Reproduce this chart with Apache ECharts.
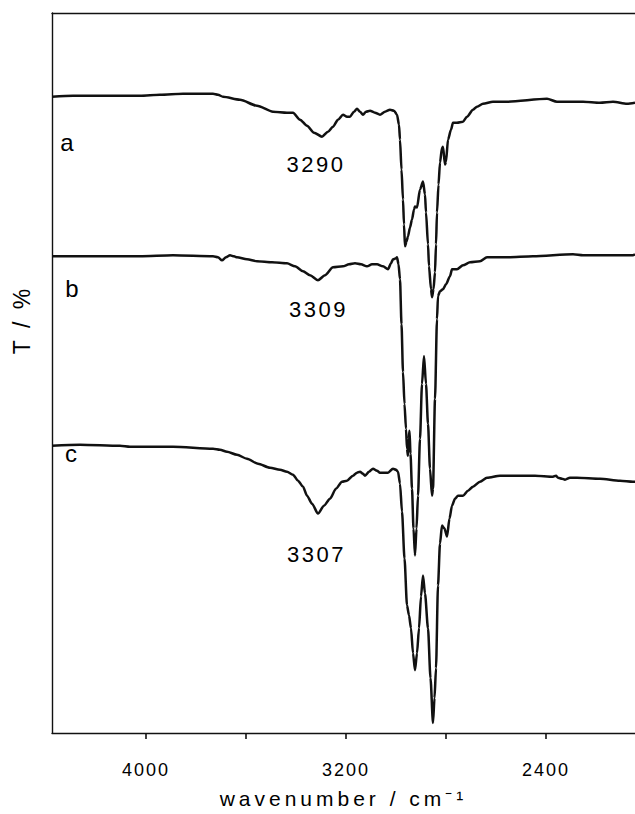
<!DOCTYPE html>
<html><head><meta charset="utf-8">
<script src="https://cdn.jsdelivr.net/npm/echarts@6/dist/echarts.min.js"></script>
<style>html,body{margin:0;padding:0;background:#fff}#c{width:635px;height:814px}</style>
</head><body><div id="c"></div>
<script>
const waveA = [4376,4292,4184,4024,3944,3852,3784,3732,3712,3692,3624,3556,3492,3436,3412,3384,3356,3328,3296,3272,3252,3232,3212,3196,3184,3168,3156,3144,3132,3120,3104,3084,3064,3044,3024,3008,2996,2988,2984,2978,2972,2968,2964,2958,2952,2944,2936,2928,2924,2916,2904,2892,2884,2880,2872,2868,2860,2856,2850,2844,2840,2836,2830,2824,2816,2812,2804,2800,2792,2780,2772,2756,2732,2716,2692,2676,2652,2612,2556,2396,2356,2292,2252,2184,2132,2076,2044];
const transA = [638,639,639,639,640,641,641,641,640,638,635,629,623,622,622,615,609,602,598,603,608,615,620,618,618,623,626,623,620,623,624,622,620,623,625,624,620,610,595,565,535,510,488,493,498,507,515,525,528,527,545,553,540,522,490,468,445,437,445,462,490,522,550,572,587,588,570,573,595,605,612,612,613,618,625,628,631,633,633,636,633,633,633,632,633,631,632];
const waveB = [4376,4292,4184,4024,3892,3732,3712,3696,3680,3664,3648,3636,3596,3556,3496,3436,3404,3372,3344,3312,3284,3252,3212,3188,3164,3140,3116,3096,3076,3052,3032,3020,3012,3000,2996,2990,2984,2978,2972,2966,2960,2956,2952,2949,2946,2942,2936,2930,2924,2918,2912,2904,2896,2888,2880,2872,2864,2856,2852,2844,2836,2832,2824,2812,2800,2784,2776,2756,2732,2704,2664,2636,2556,2452,2292,2252,2052,2044];
const transB = [478,478,478,478,479,478,477,474,477,479,478,477,475,473,472,471,468,463,459,454,459,467,468,470,471,470,468,470,470,468,465,471,475,476,477,470,455,410,362,330,305,285,278,295,303,280,245,205,178,205,238,295,350,378,350,310,265,238,245,335,415,438,443,445,450,458,465,465,469,472,473,477,477,478,480,479,479,480];
const waveC = [4376,4264,4104,4064,3892,3732,3704,3676,3636,3596,3552,3504,3464,3436,3412,3392,3372,3356,3336,3312,3288,3264,3240,3216,3196,3172,3156,3144,3132,3124,3108,3092,3076,3064,3048,3032,3012,3000,2992,2984,2976,2966,2956,2948,2940,2932,2924,2916,2908,2900,2892,2884,2872,2862,2852,2846,2840,2832,2824,2816,2806,2796,2786,2776,2764,2752,2732,2712,2692,2664,2636,2584,2516,2444,2372,2360,2352,2336,2324,2304,2276,2184,2104,2052,2044];
const transC = [288,289,288,287,287,285,284,282,279,275,270,266,264,262,259,253,247,238,230,220,228,235,245,252,253,258,261,262,260,258,262,265,263,261,261,261,265,264,262,250,222,175,128,118,105,80,63,80,105,137,158,140,105,55,10,35,65,148,190,208,205,197,215,228,235,238,238,243,247,252,256,258,258,258,257,258,256,255,254,256,256,255,253,252,252];

const tickValues = [2400, 2800, 3200, 3600, 4000];
const labelValues = [2400, 3200, 4000];
const traceNames = ['a', 'b', 'c'];
const traceNameWave = [4316, 4296, 4300];
const traceNameT = [592, 446, 280];
const peakNames = ['3290', '3309', '3307'];
const peakWave = [3320, 3310, 3318];
const peakT = [570, 425, 179];

const FONT = 'Liberation Sans, Arial, sans-serif';
const INK = '#111';
const TXT = '#000';
const zip = (w, t) => w.map((x, i) => [x, t[i]]);

const chart = echarts.init(document.getElementById('c'), null, {renderer: 'svg'});
const lineSeries = (w, t) => ({
  type: 'line', data: zip(w, t), showSymbol: false, smooth: 0.25, smoothMonotone: 'x',
  lineStyle: {color: INK, width: 2.5}, silent: true, animation: false
});
chart.setOption({
  animation: false,
  grid: {left: 52, right: 0, top: 13, bottom: 79},
  xAxis: [{
    type: 'value', inverse: true, min: 2044, max: 4376,
    name: 'wavenumber / cm\u207B\u00B9', nameLocation: 'middle', nameGap: 55,
    nameTextStyle: {fontFamily: FONT, fontSize: 21, color: TXT},
    axisLine: {show: true, lineStyle: {color: INK, width: 1.4}},
    axisTick: {show: true, length: 6, lineStyle: {color: INK, width: 1.6}, customValues: tickValues},
    axisLabel: {show: true, fontFamily: FONT, fontSize: 18, color: TXT, margin: 28,
      customValues: labelValues, formatter: v => String(v)},
    splitLine: {show: false}
  }, {
    type: 'value', inverse: true, min: 2044, max: 4376, position: 'top',
    axisLine: {show: true, lineStyle: {color: INK, width: 1.4}},
    axisTick: {show: false}, axisLabel: {show: false}, splitLine: {show: false}
  }],
  yAxis: {
    type: 'value', min: 0, max: 722,
    axisLine: {show: true, lineStyle: {color: INK, width: 1.4}},
    axisTick: {show: false}, axisLabel: {show: false}, splitLine: {show: false}
  },
  graphic: [{
    type: 'text', x: 22, y: 320, rotation: Math.PI / 2,
    style: {text: 'T / %', fontFamily: FONT, fontSize: 23, fill: TXT, align: 'center', verticalAlign: 'middle'}
  }],
  series: [
    lineSeries(waveA, transA),
    lineSeries(waveB, transB),
    lineSeries(waveC, transC),
    {
      type: 'scatter', symbolSize: 0, silent: true, itemStyle: {opacity: 1},
      data: traceNames.map((n, i) => ({name: n, value: [traceNameWave[i], traceNameT[i]]})),
      label: {show: true, position: 'inside', formatter: '{b}', fontFamily: FONT, fontSize: 24, color: TXT}
    },
    {
      type: 'scatter', symbolSize: 0, silent: true, itemStyle: {opacity: 1},
      data: peakNames.map((n, i) => ({name: n, value: [peakWave[i], peakT[i]]})),
      label: {show: true, position: 'inside', formatter: '{b}', fontFamily: FONT, fontSize: 22, color: TXT}
    }
  ]
});
const spacing = {'18': '2px', '21': '4px', '22': '2.5px', '23': '3px'};
function applySpacing() {
  document.querySelectorAll('#c text').forEach(el => {
    const fs = parseFloat(getComputedStyle(el).fontSize);
    const s = spacing[String(Math.round(fs))];
    if (s) el.style.letterSpacing = s;
  });
}
chart.on('finished', applySpacing);
applySpacing();
</script></body></html>
